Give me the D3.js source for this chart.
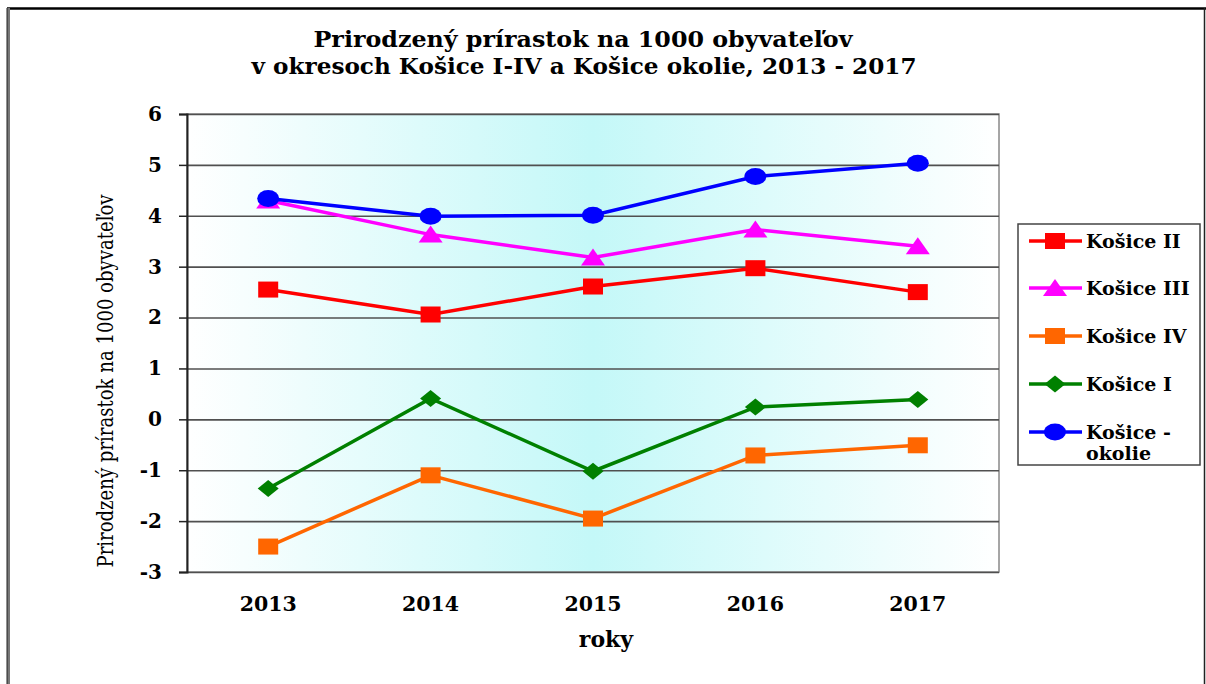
<!DOCTYPE html>
<html>
<head lang="sk">
    <meta charset="utf-8">
    <title>Prirodzený prírastok</title>
    <style type="text/css">
        body {
            margin: 0;
            background: #fff;
        }

        svg text {
            font-family: "DejaVu Serif", "Liberation Serif", serif;
            fill: #000;
        }

        .grid line {
            stroke: #505050;
            stroke-width: 1.6;
        }

        .grid path {
            display: none;
        }
    </style>
</head>
<body>
<script src="https://cdn.jsdelivr.net/npm/d3@7/dist/d3.min.js"></script>
<script type="text/javascript">
    //údaje
    var roky = ["2013", "2014", "2015", "2016", "2017"];
    var yTicks = [-3, -2, -1, 0, 1, 2, 3, 4, 5, 6];

    var kosice2 = [2.55, 2.06, 2.61, 2.97, 2.50];
    var kosice3 = [4.30, 3.63, 3.18, 3.73, 3.40];
    var kosice4 = [-2.50, -1.10, -1.95, -0.71, -0.51];
    var kosice1 = [-1.36, 0.41, -1.02, 0.24, 0.39];
    var okolie = [4.34, 3.99, 4.01, 4.77, 5.03];

    var series = [
        {name: ["Košice II"], values: kosice2, color: "#ff0000", marker: "square"},
        {name: ["Košice III"], values: kosice3, color: "#ff00ff", marker: "triangle"},
        {name: ["Košice IV"], values: kosice4, color: "#ff6600", marker: "square"},
        {name: ["Košice I"], values: kosice1, color: "#008000", marker: "diamond"},
        {name: ["Košice -", "okolie"], values: okolie, color: "#0000ff", marker: "circle"}
    ];

    var W = 1206, H = 684;
    var plot = {left: 187, right: 999, top: 114, bottom: 572};

    var svg = d3.select("body")
        .append("svg")
        .attr("width", W)
        .attr("height", H);

    //rámček okolo celého grafu
    svg.append("line")
        .attr("x1", 7).attr("x2", W).attr("y1", 8.5).attr("y2", 8.5)
        .attr("stroke", "#000").attr("stroke-width", 2.5);
    svg.append("line")
        .attr("x1", 8.5).attr("x2", 8.5).attr("y1", 8).attr("y2", H)
        .attr("stroke", "#777").attr("stroke-width", 3);
    svg.append("line")
        .attr("x1", 7).attr("x2", 7).attr("y1", 8).attr("y2", H)
        .attr("stroke", "#222").attr("stroke-width", 1);
    svg.append("line")
        .attr("x1", 1204.5).attr("x2", 1204.5).attr("y1", 8).attr("y2", H)
        .attr("stroke", "#222").attr("stroke-width", 1.5);

    //nadpis
    var title = svg.append("text")
        .attr("text-anchor", "middle")
        .style("font-weight", "bold")
        .style("font-size", "23px");
    title.append("tspan").attr("x", 583).attr("y", 47)
        .attr("textLength", 539).attr("lengthAdjust", "spacingAndGlyphs")
        .text("Prirodzený prírastok na 1000 obyvateľov");
    title.append("tspan").attr("x", 584).attr("y", 74)
        .attr("textLength", 665).attr("lengthAdjust", "spacingAndGlyphs")
        .text("v okresoch Košice I-IV a Košice okolie, 2013 - 2017");

    var x = d3.scalePoint()
        .domain(roky)
        .range([plot.left, plot.right])
        .padding(0.5);

    var y = d3.scaleLinear()
        .domain([-3, 6])
        .range([plot.bottom, plot.top]);

    //pozadie s prechodom
    var grad = svg.append("defs").append("linearGradient")
        .attr("id", "bg")
        .attr("x1", "0").attr("x2", "1").attr("y1", "0").attr("y2", "0");
    grad.append("stop").attr("offset", "0").attr("stop-color", "#ffffff");
    grad.append("stop").attr("offset", "0.5").attr("stop-color", "#c4f8f8");
    grad.append("stop").attr("offset", "1").attr("stop-color", "#ffffff");

    svg.append("rect")
        .attr("x", plot.left)
        .attr("y", plot.top)
        .attr("width", plot.right - plot.left)
        .attr("height", plot.bottom - plot.top)
        .attr("fill", "url(#bg)")
        .attr("stroke", "#888")
        .attr("stroke-width", 1.5);

    //mriežka
    svg.append("g")
        .attr("class", "grid")
        .attr("transform", "translate(" + plot.left + ",0)")
        .call(d3.axisLeft(y).tickValues(yTicks).tickSize(-(plot.right - plot.left)).tickFormat(""));

    //os y
    var yAxis = svg.append("g")
        .attr("transform", "translate(" + plot.left + ",0)")
        .call(d3.axisLeft(y).tickValues(yTicks).tickSize(8).tickPadding(17)
            .tickFormat(function (d) { return d < 0 ? "-" + Math.abs(d) : d; }));
    yAxis.select(".domain").attr("stroke", "#222").attr("stroke-width", 2);
    yAxis.selectAll(".tick line").attr("stroke", "#222").attr("stroke-width", 1.5);
    yAxis.selectAll(".tick text")
        .style("font-size", "20px")
        .style("font-weight", "bold")
        .attr("fill", "#000");

    //os x - len popisy
    svg.append("g")
        .selectAll("text")
        .data(roky)
        .enter()
        .append("text")
        .attr("x", function (d) { return x(d); })
        .attr("y", 611)
        .attr("text-anchor", "middle")
        .style("font-size", "20.5px")
        .style("font-weight", "bold")
        .text(function (d) { return d; });

    svg.append("text")
        .attr("x", 606)
        .attr("y", 647)
        .attr("text-anchor", "middle")
        .style("font-size", "22px")
        .style("font-weight", "bold")
        .text("roky");

    svg.append("text")
        .attr("transform", "translate(113,381) rotate(-90)")
        .attr("text-anchor", "middle")
        .attr("textLength", 373)
        .attr("lengthAdjust", "spacingAndGlyphs")
        .style("font-size", "22px")
        .text("Prirodzený prírastok na 1000 obyvateľov");

    //značky
    function drawMarker(g, type, color) {
        if (type === "square") {
            g.append("rect").attr("x", -10).attr("y", -8).attr("width", 20).attr("height", 16).attr("fill", color);
        } else if (type === "triangle") {
            g.append("path").attr("d", "M0,-9 L12,8 L-12,8 Z").attr("fill", color);
        } else if (type === "diamond") {
            g.append("path").attr("d", "M0,-8.5 L10.5,0 L0,8.5 L-10.5,0 Z").attr("fill", color);
        } else {
            g.append("ellipse").attr("rx", 11).attr("ry", 8.5).attr("fill", color);
        }
    }

    var line = d3.line()
        .x(function (d, i) { return x(roky[i]); })
        .y(function (d) { return y(d); });

    //kreslenie v poradí: najprv spodné série
    var order = [2, 3, 0, 1, 4];
    order.forEach(function (k) {
        var s = series[k];
        var g = svg.append("g");
        g.append("path")
            .datum(s.values)
            .attr("d", line)
            .attr("fill", "none")
            .attr("stroke", s.color)
            .attr("stroke-width", 3.5);
        g.selectAll("g.pt")
            .data(s.values)
            .enter()
            .append("g")
            .attr("class", "pt")
            .attr("transform", function (d, i) {
                return "translate(" + x(roky[i]) + "," + y(d) + ")";
            })
            .each(function () { drawMarker(d3.select(this), s.marker, s.color); });
    });

    //legenda
    var legend = svg.append("g");
    legend.append("rect")
        .attr("x", 1018).attr("y", 224)
        .attr("width", 182).attr("height", 241)
        .attr("fill", "#fff")
        .attr("stroke", "#444")
        .attr("stroke-width", 1.5);

    var legY = [241, 288, 336, 384, 432];
    series.forEach(function (s, i) {
        var g = legend.append("g").attr("transform", "translate(0," + legY[i] + ")");
        g.append("line")
            .attr("x1", 1029).attr("x2", 1082)
            .attr("stroke", s.color).attr("stroke-width", 3.5);
        var m = g.append("g").attr("transform", "translate(1055,0)");
        drawMarker(m, s.marker, s.color);
        s.name.forEach(function (t, j) {
            g.append("text")
                .attr("x", 1086)
                .attr("y", 7 + j * 21)
                .style("font-size", "19px")
                .style("font-weight", "bold")
                .text(t);
        });
    });
</script>
</body>
</html>
